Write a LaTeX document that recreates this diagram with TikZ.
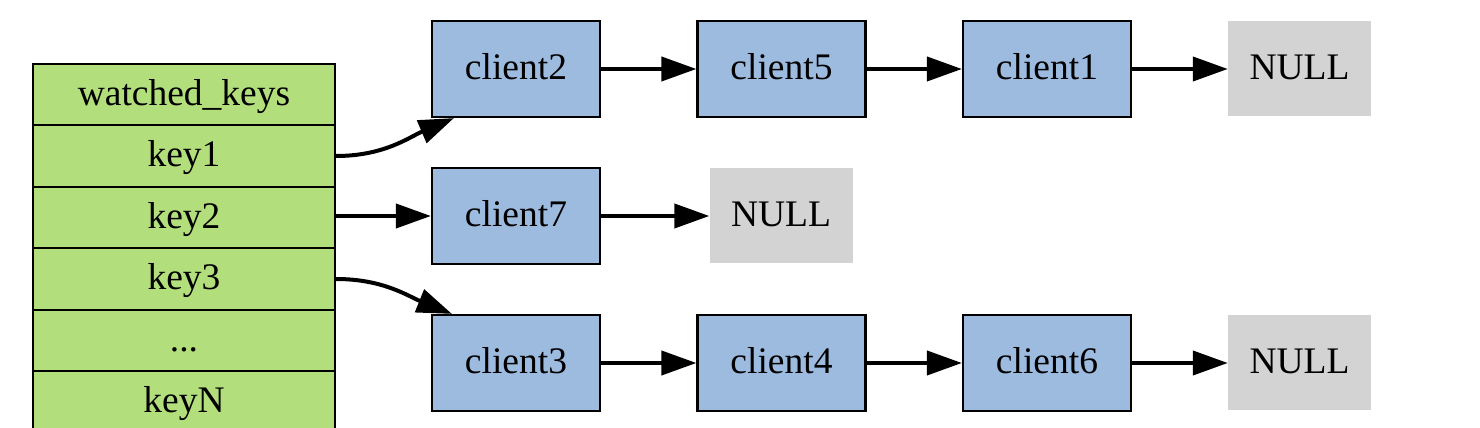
\documentclass[tikz,border=0pt]{standalone}
\usepackage{fontspec}
\setmainfont{Liberation Serif}
\usetikzlibrary{arrows.meta}
\definecolor{keygreen}{HTML}{B3DE7C}
\definecolor{cliblue}{HTML}{9CBBDF}
\definecolor{nullgray}{HTML}{D3D3D3}
\begin{document}
\begin{tikzpicture}[x=1pt,y=1pt,
  every node/.style={font=\fontsize{37.5}{45}\selectfont, inner sep=0pt, text height=28pt, text depth=6pt},
  keyrow/.style={draw=black, line width=2.2pt, fill=keygreen, minimum width=302pt, minimum height=61.5pt},
  client/.style={draw=black, line width=2.2pt, fill=cliblue, minimum width=168pt, minimum height=96pt},
  nullbox/.style={fill=nullgray, minimum width=143pt, minimum height=95pt},
  arr/.style={line width=4pt, -{Triangle[length=35pt,width=24pt]}}]
\useasboundingbox (0,0) rectangle (1480,428);
\fill[white] (0,0) rectangle (1480,428);
% table
\node[keyrow] (wk) at (184,333.5) {watched\_keys};
\node[keyrow] (k1) at (184,272) {key1};
\node[keyrow] (k2) at (184,210.5) {key2};
\node[keyrow] (k3) at (184,149) {key3};
\node[keyrow] (kd) at (184,87.5) {...};
\node[keyrow] (kn) at (184,26) {keyN};
% row 1
\node[client] (c2) at (516,359) {client2};
\node[client] (c5) at (781.5,359) {client5};
\node[client] (c1) at (1047,359) {client1};
\node[nullbox] (n1) at (1299.5,359) {NULL};
% row 2
\node[client] (c7) at (516,212) {client7};
\node[nullbox] (n2) at (781,212) {NULL};
% row 3
\node[client] (c3) at (516,65) {client3};
\node[client] (c4) at (781.5,65) {client4};
\node[client] (c6) at (1047,65) {client6};
\node[nullbox] (n3) at (1299.5,65) {NULL};
% edges
\draw[arr] (c2) -- (c5);
\draw[arr] (c5) -- (c1);
\draw[arr] (c1) -- (n1);
\draw[arr] (c7) -- (n2);
\draw[arr] (c3) -- (c4);
\draw[arr] (c4) -- (c6);
\draw[arr] (c6) -- (n3);
\draw[arr] (c7.west -| k2.east) -- (c7.west);
\draw[arr] (k1.east) to[out=0,in=203] ([xshift=23pt]c2.south west);
\draw[arr] (k3.east) to[out=0,in=158] ([xshift=21pt]c3.north west);
\end{tikzpicture}
\end{document}
